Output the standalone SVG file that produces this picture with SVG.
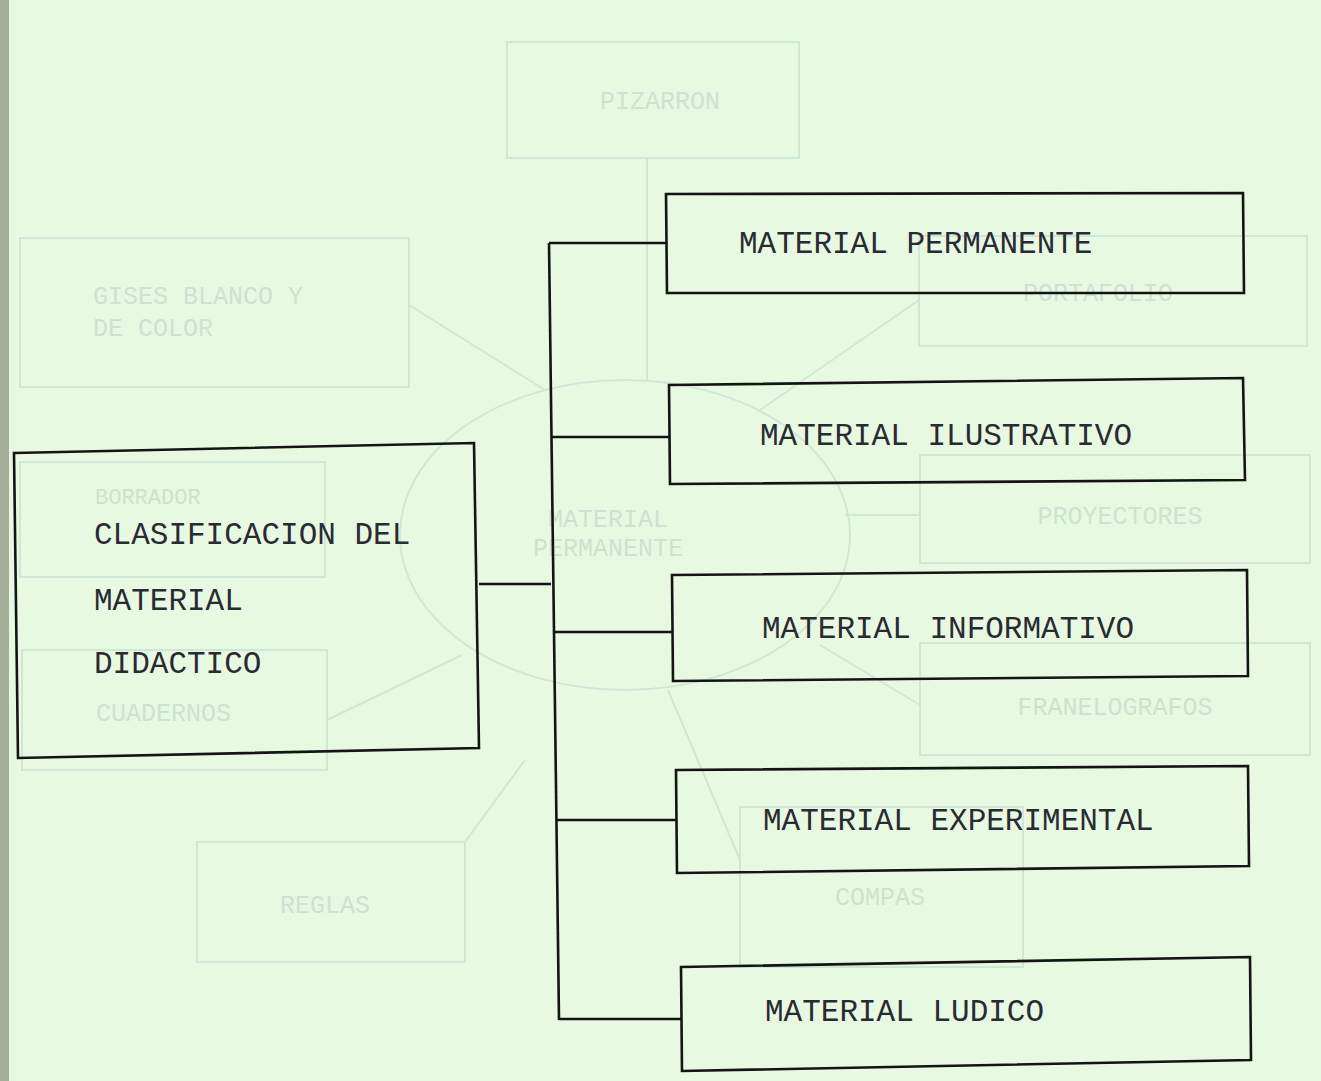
<svg xmlns="http://www.w3.org/2000/svg" width="1321" height="1081" viewBox="0 0 1321 1081">
<style>
.ghost{fill:none;stroke:#cfe8d6;stroke-width:2}
.gtext{fill:#cde3d1;font-family:"Liberation Mono","DejaVu Sans Mono",monospace;font-size:25px}
.box{fill:none;stroke:#141414;stroke-width:2.6;stroke-linejoin:miter}
.label{fill:#2a2a33;font-family:"Liberation Mono","DejaVu Sans Mono",monospace;font-size:31px}
.conn{fill:none;stroke:#141414;stroke-width:2.6}
</style>
<rect x="0" y="0" width="1321" height="1081" fill="#e8f9e2"/>
<rect x="0" y="0" width="9" height="1081" fill="#a3ad97"/>

<g id="show-through">
  <rect class="ghost" x="507" y="42" width="292" height="116"/>
  <text class="gtext" x="660" y="109" text-anchor="middle">PIZARRON</text>
  <rect class="ghost" x="20" y="238" width="389" height="149"/>
  <text class="gtext" x="93" y="304">GISES BLANCO Y</text>
  <text class="gtext" x="93" y="336">DE COLOR</text>
  <rect class="ghost" x="919" y="236" width="388" height="110"/>
  <text class="gtext" x="1098" y="301" text-anchor="middle">PORTAFOLIO</text>
  <rect class="ghost" x="20" y="462" width="305" height="115"/>
  <text class="gtext" x="95" y="504" style="font-size:22px">BORRADOR</text>
  <rect class="ghost" x="22" y="650" width="305" height="120"/>
  <text class="gtext" x="96" y="721">CUADERNOS</text>
  <rect class="ghost" x="920" y="455" width="390" height="108"/>
  <text class="gtext" x="1120" y="524" text-anchor="middle">PROYECTORES</text>
  <rect class="ghost" x="920" y="643" width="390" height="112"/>
  <text class="gtext" x="1115" y="715" text-anchor="middle">FRANELOGRAFOS</text>
  <rect class="ghost" x="197" y="842" width="268" height="120"/>
  <text class="gtext" x="325" y="913" text-anchor="middle">REGLAS</text>
  <rect class="ghost" x="740" y="807" width="283" height="160"/>
  <text class="gtext" x="880" y="905" text-anchor="middle">COMPAS</text>
  <ellipse class="ghost" cx="625" cy="535" rx="225" ry="155"/>
  <text class="gtext" x="608" y="527" text-anchor="middle">MATERIAL</text>
  <text class="gtext" x="608" y="556" text-anchor="middle">PERMANENTE</text>
  <path class="ghost" d="M647 158V380 M409 305L545 390 M327 720L462 655 M465 842L525 760 M919 300L760 410 M845 515H920 M920 705L820 645 M740 860L668 690"/>
</g>

<g id="connectors">
  <path class="conn" d="M479 584H551"/>
  <path class="conn" d="M549 243L559 1020"/>
  <path class="conn" d="M549 243H666"/>
  <path class="conn" d="M552 437H669"/>
  <path class="conn" d="M555 632H672"/>
  <path class="conn" d="M557 820H676"/>
  <path class="conn" d="M559 1019H681"/>
</g>

<g id="node-root">
  <polygon class="box" points="14,453 474,443 479,748 18,758"/>
  <text class="label" x="94" y="544">CLASIFICACION DEL</text>
  <text class="label" x="94" y="610">MATERIAL</text>
  <text class="label" x="94" y="673">DIDACTICO</text>
</g>
<g id="node-permanente">
  <polygon class="box" points="666,194 1243,193 1244,293 667,293"/>
  <text class="label" x="739" y="253">MATERIAL PERMANENTE</text>
</g>
<g id="node-ilustrativo">
  <polygon class="box" points="669,385 1243,378 1245,480 670,484"/>
  <text class="label" x="760" y="445">MATERIAL ILUSTRATIVO</text>
</g>
<g id="node-informativo">
  <polygon class="box" points="672,575 1247,570 1248,676 673,681"/>
  <text class="label" x="762" y="638">MATERIAL INFORMATIVO</text>
</g>
<g id="node-experimental">
  <polygon class="box" points="676,770 1248,766 1249,866 677,873"/>
  <text class="label" x="763" y="830">MATERIAL EXPERIMENTAL</text>
</g>
<g id="node-ludico">
  <polygon class="box" points="681,967 1250,957 1251,1060 682,1071"/>
  <text class="label" x="765" y="1021">MATERIAL LUDICO</text>
</g>
</svg>
